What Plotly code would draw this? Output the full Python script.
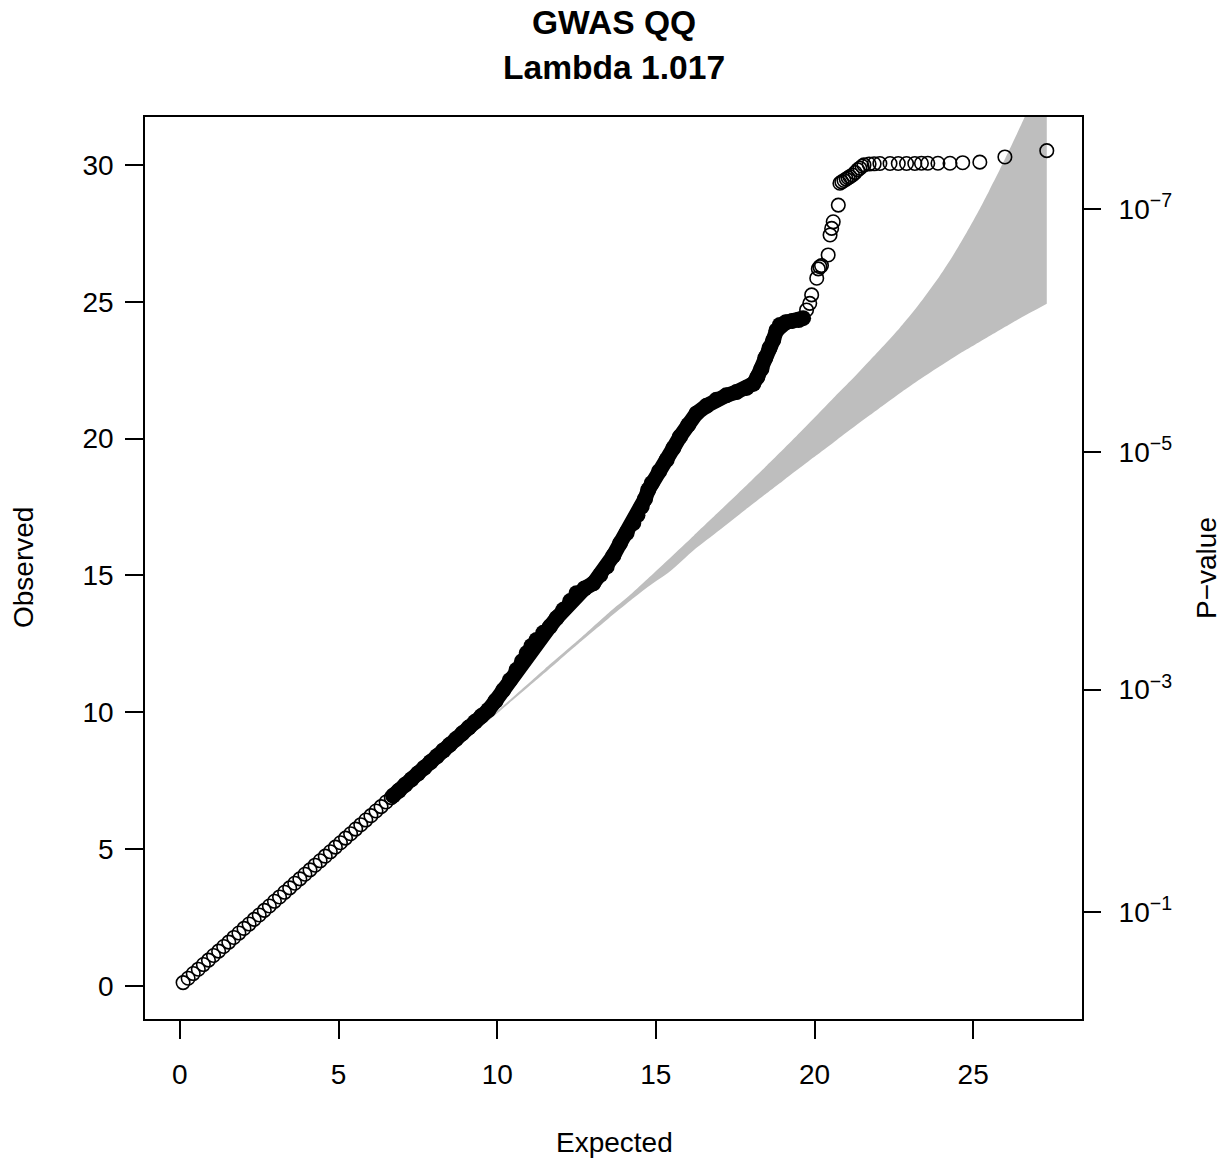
import plotly.graph_objects as go

# ---------------- data ----------------
# sparse low part (individually visible open circles)
low_exp = [0.10,0.26,0.42,0.58,0.74,0.90,1.06,1.22,1.38,1.54,1.70,1.86,2.02,2.18,2.34,2.50,2.66,2.82,2.98,3.14,
           3.30,3.46,3.62,3.78,3.94,4.10,4.26,4.42,4.58,4.74,4.90,5.06,5.22,5.38,5.54,5.70,5.86,6.02,6.18,6.34,6.50,6.66]
low_obs = [0.12,0.28,0.45,0.61,0.78,0.94,1.11,1.27,1.44,1.60,1.77,1.93,2.10,2.26,2.43,2.59,2.76,2.92,3.09,3.25,
           3.42,3.58,3.75,3.91,4.08,4.24,4.41,4.57,4.74,4.90,5.07,5.23,5.40,5.56,5.73,5.89,6.06,6.22,6.39,6.55,6.72,6.88]

# dense middle part (overlapping circles forming a solid band)
mid_exp = [6.72,6.90,7.10,7.30,7.50,7.70,7.90,8.10,8.30,8.50,8.70,8.90,9.10,9.30,9.50,9.72,9.95,10.19,10.40,10.61,
           10.78,10.93,11.08,11.24,11.45,11.66,11.87,12.08,12.30,12.50,12.75,13.03,13.25,13.45,13.66,13.87,14.08,14.29,
           14.42,14.55,14.66,14.76,14.87,15.10,15.34,15.55,15.76,16.02,16.28,16.60,16.91,17.22,17.54,17.86,18.07,18.20,
           18.33,18.45,18.58,18.70,18.80,18.91,19.10,19.30,19.50,19.64]
mid_obs = [6.95,7.13,7.35,7.55,7.76,7.97,8.18,8.39,8.60,8.81,9.02,9.23,9.44,9.65,9.86,10.08,10.42,10.81,11.17,11.55,
           11.86,12.16,12.42,12.64,12.90,13.13,13.44,13.74,14.06,14.35,14.52,14.71,15.02,15.32,15.72,16.17,16.55,16.91,
           17.20,17.51,17.80,18.12,18.37,18.80,19.22,19.65,20.07,20.50,20.92,21.20,21.42,21.58,21.70,21.85,22.00,22.25,
           22.55,22.95,23.30,23.60,23.95,24.15,24.25,24.30,24.33,24.40]

# sparse top part
top_exp = [19.75,19.85,19.91,20.07,20.12,20.17,20.22,20.43,20.49,20.54,20.59,20.75,20.80,20.86,20.93,21.00,21.06,
           21.12,21.20,21.28,21.36,21.43,21.50,21.56,21.72,21.88,22.06,22.38,22.64,22.90,23.16,23.37,23.57,23.89,
           24.27,24.67,25.21,26.00,27.32]
top_obs = [24.70,24.94,25.25,25.86,26.20,26.28,26.32,26.71,27.44,27.68,27.92,28.53,29.33,29.38,29.43,29.48,29.53,
           29.57,29.63,29.72,29.82,29.88,29.95,30.00,30.03,30.04,30.05,30.05,30.05,30.05,30.05,30.06,30.06,30.06,
           30.06,30.08,30.10,30.29,30.52]

# confidence band
band_x     = [0.10,5.00,9.00,10.00,11.50,12.50,13.50,14.20,14.80,15.44,16.20,17.00,17.80,18.49,19.00,19.54,20.05,20.59,
              21.12,21.75,22.17,22.69,23.05,23.42,23.95,24.37,24.79,25.21,25.50,25.84,26.10,26.37,26.85,27.32]
band_upper = [0.10,5.01,9.02,10.04,11.58,12.58,13.62,14.30,14.94,15.63,16.46,17.34,18.23,19.01,19.59,20.22,20.82,21.47,
              22.09,22.86,23.38,24.05,24.55,25.10,25.95,26.70,27.52,28.40,29.05,29.83,30.45,31.11,32.33,33.60]
band_lower = [0.10,4.99,8.98,9.96,11.44,12.45,13.42,14.08,14.62,15.14,15.93,16.65,17.38,18.00,18.45,18.93,19.38,19.85,
              20.32,20.86,21.22,21.66,21.95,22.24,22.64,22.95,23.25,23.54,23.74,23.97,24.14,24.32,24.63,24.93]

x_ticks = [0, 5, 10, 15, 20, 25]
y_ticks = [0, 5, 10, 15, 20, 25, 30]
p_tick_pos = [2.706, 10.828, 19.511, 28.374]
p_tick_text = ["10<sup>\u22121</sup>", "10<sup>\u22123</sup>", "10<sup>\u22125</sup>", "10<sup>\u22127</sup>"]

title_lines = ["GWAS QQ", "Lambda 1.017"]

# ---------------- figure ----------------
FONT = "Liberation Sans, Arial, Helvetica, sans-serif"
W, H = 1227, 1162
L, R, T, B = 145, 145, 117, 143
pw, ph = W - L - R, H - T - B

fig = go.Figure()
fig.add_trace(go.Scatter(x=band_x, y=band_lower, mode="lines",
                         line=dict(width=0, color="#BEBEBE", shape="spline", smoothing=0.6),
                         showlegend=False, hoverinfo="skip"))
fig.add_trace(go.Scatter(x=band_x, y=band_upper, mode="lines",
                         line=dict(width=0, color="#BEBEBE", shape="spline", smoothing=0.6),
                         fill="tonexty", fillcolor="#BEBEBE", showlegend=False, hoverinfo="skip"))

ring = dict(symbol="circle-open", size=13.5, color="black", line=dict(width=1.6, color="black"))
fig.add_trace(go.Scatter(x=low_exp, y=low_obs, mode="markers", marker=ring, showlegend=False))
fig.add_trace(go.Scatter(x=mid_exp, y=mid_obs, mode="lines+markers",
                         line=dict(width=15, color="black"),
                         marker=dict(symbol="circle", size=16, color="black"), showlegend=False))
fig.add_trace(go.Scatter(x=top_exp, y=top_obs, mode="markers", marker=ring, showlegend=False))
# invisible trace to activate the right axis
fig.add_trace(go.Scatter(x=[band_x[0]], y=[band_lower[0]], yaxis="y2", mode="markers",
                         marker=dict(size=0.1, color="rgba(0,0,0,0)"), showlegend=False, hoverinfo="skip"))

axis_common = dict(showgrid=False, zeroline=False, ticks="outside", ticklen=18, tickwidth=1.5,
                   tickcolor="black", tickfont=dict(family=FONT, size=28, color="black"))
yr = [-1.21, 31.75]
fig.update_layout(
    width=W, height=H, margin=dict(l=L, r=R, t=T, b=B, pad=0),
    paper_bgcolor="white", plot_bgcolor="white",
    font=dict(family=FONT, color="black"),
    xaxis=dict(range=[-1.10, 28.43], tickvals=x_ticks, showline=True, mirror=True,
               linecolor="black", linewidth=1.5, ticklabelstandoff=12, **axis_common),
    yaxis=dict(range=yr, tickvals=y_ticks, showline=True, mirror=True,
               linecolor="black", linewidth=1.5, ticklabelstandoff=6, **axis_common),
    yaxis2=dict(range=yr, overlaying="y", side="right", tickvals=p_tick_pos, ticktext=p_tick_text,
                showline=False, ticklabelstandoff=12, **axis_common),
    showlegend=False,
)

def py2paper(py):
    return (T + ph - py) / ph

def px2paper(px):
    return (px - L) / pw

ann = [
    dict(text="<b>%s</b>" % title_lines[0], x=0.5, y=py2paper(23), font=dict(size=33.6)),
    dict(text="<b>%s</b>" % title_lines[1], x=0.5, y=py2paper(68), font=dict(size=33.6)),
    dict(text="Expected", x=px2paper(614), y=py2paper(1142), font=dict(size=28)),
    dict(text="Observed", x=px2paper(23), y=py2paper(568), font=dict(size=28), textangle=-90),
    dict(text="P\u2212value", x=px2paper(1206), y=py2paper(568), font=dict(size=28), textangle=-90),
]
for a in ann:
    a.update(xref="paper", yref="paper", showarrow=False, xanchor="center", yanchor="middle")
    a["font"].update(family=FONT, color="black")
fig.update_layout(annotations=ann)

fig.write_html("out.html")
